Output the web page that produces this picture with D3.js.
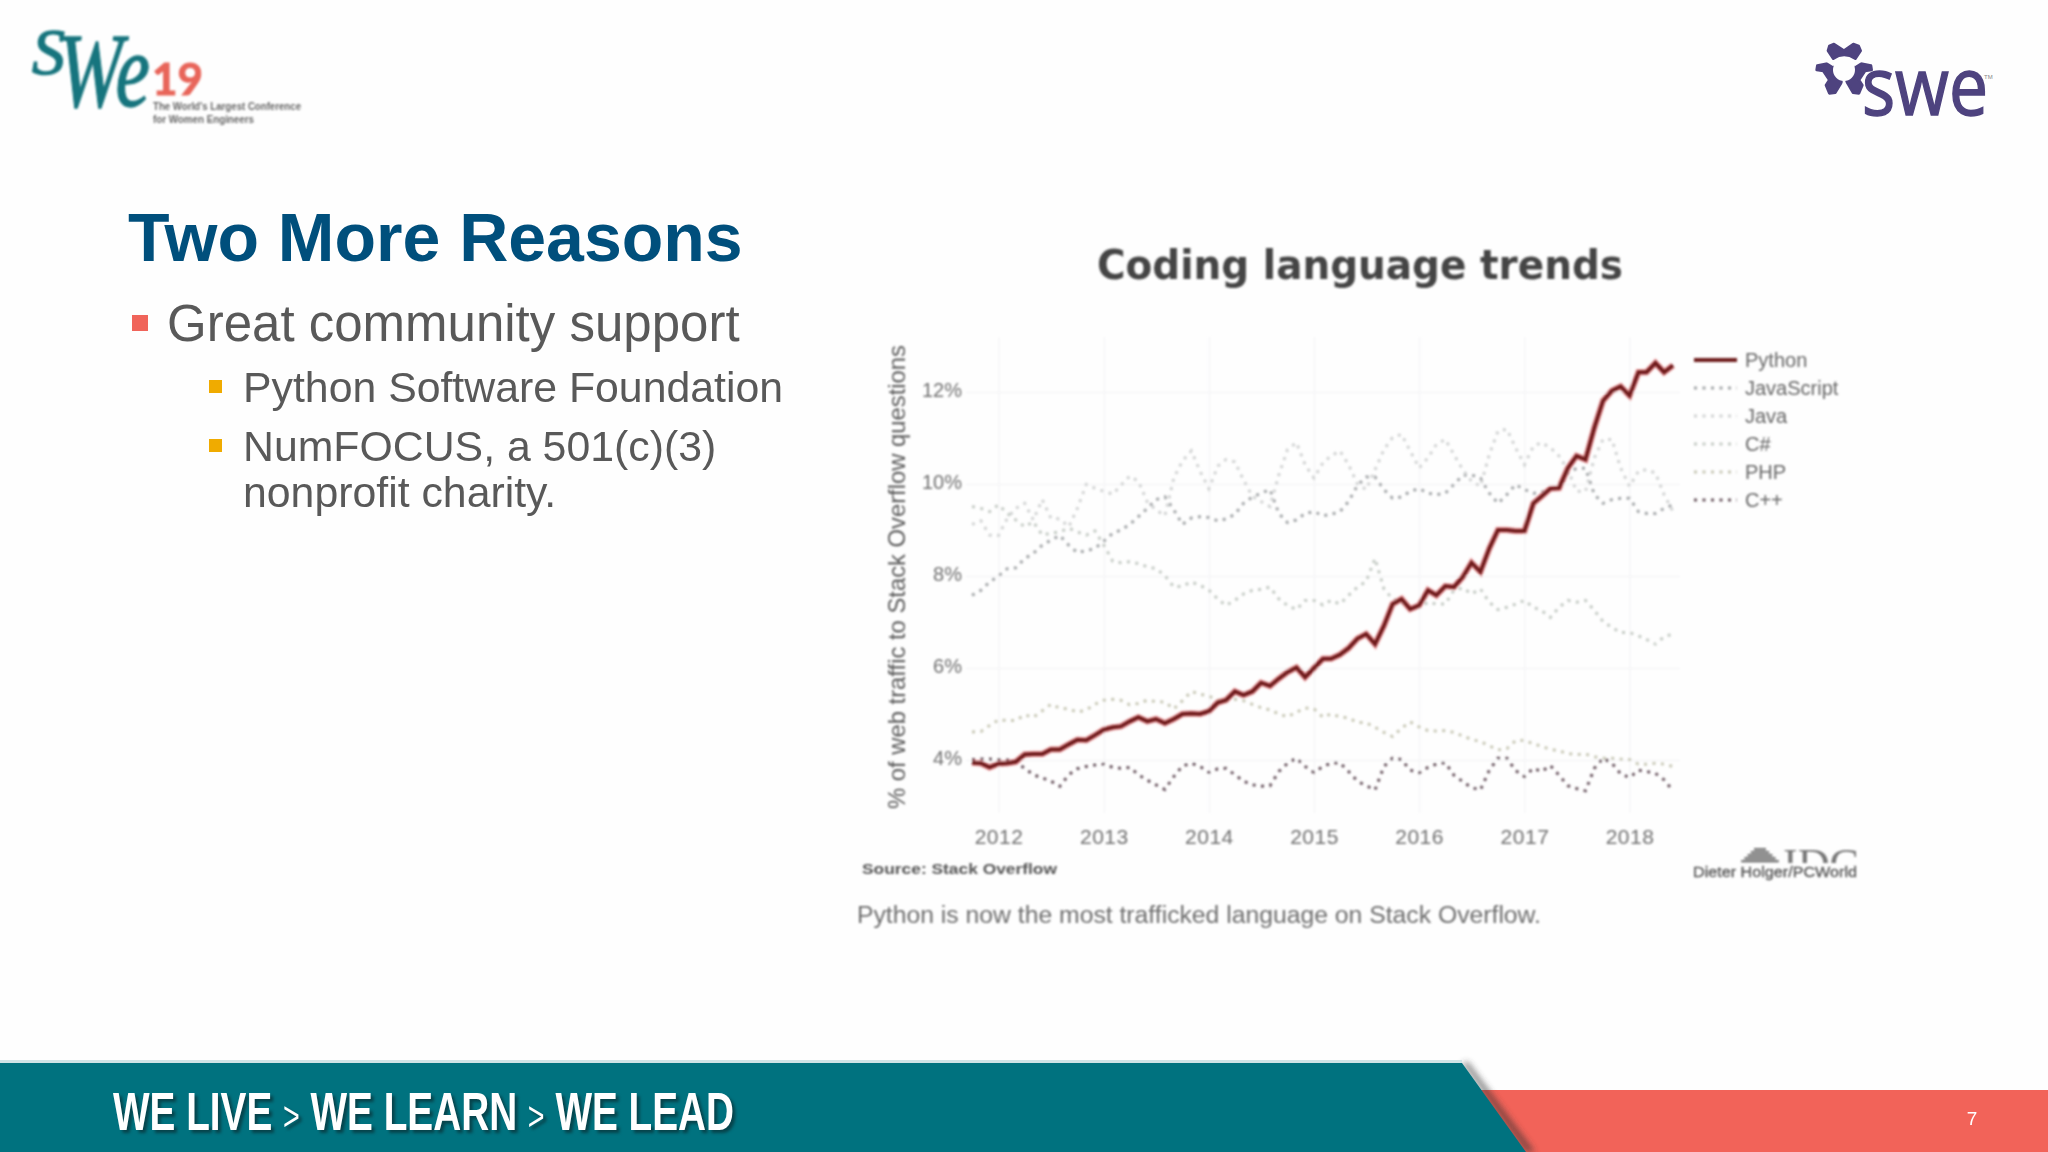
<!DOCTYPE html>
<html>
<head>
<meta charset="utf-8">
<script src="https://cdn.jsdelivr.net/npm/d3@7"></script>
<style>
  body { margin: 0; background: #fff; }
  svg { display: block; }
  text { font-family: "Liberation Sans", Arial, sans-serif; }
</style>
</head>
<body>
<script>
//monthly values, Oct 2011 to Jun 2018
const months = d3.timeMonth.range(new Date(2011, 9, 1), new Date(2018, 6, 1))
const python = [3.94,3.93,3.84,3.92,3.93,3.96,4.12,4.13,4.13,4.23,4.23,4.34,4.44,4.43,4.54,4.66,4.71,4.73,4.84,4.93,4.84,4.89,4.80,4.89,5.00,5.01,5.00,5.06,5.25,5.30,5.49,5.41,5.49,5.68,5.61,5.77,5.91,6.01,5.80,6.00,6.20,6.20,6.29,6.43,6.64,6.74,6.52,6.92,7.39,7.50,7.28,7.36,7.69,7.58,7.78,7.76,7.98,8.29,8.09,8.60,9.00,9.00,8.98,8.98,9.58,9.73,9.90,9.91,10.35,10.61,10.53,11.23,11.81,12.03,12.12,11.92,12.43,12.43,12.63,12.43,12.58]
const javascript = [7.58,7.69,7.87,8.00,8.16,8.18,8.38,8.49,8.67,8.78,8.88,8.67,8.51,8.55,8.60,8.76,8.93,9.00,9.12,9.29,9.47,9.66,9.72,9.44,9.12,9.26,9.29,9.27,9.20,9.24,9.34,9.58,9.72,9.80,9.88,9.36,9.16,9.22,9.36,9.40,9.31,9.34,9.40,9.62,9.97,10.15,10.15,9.88,9.69,9.72,9.84,9.90,9.80,9.77,9.80,9.99,10.19,10.20,10.13,9.80,9.58,9.77,9.99,9.88,9.80,9.82,9.90,9.91,10.24,10.34,10.34,9.77,9.58,9.66,9.69,9.69,9.40,9.36,9.36,9.47,9.55]
const java = [9.12,9.20,8.89,8.88,9.26,9.47,9.58,9.22,9.66,9.26,9.24,9.07,9.47,9.99,9.91,9.84,9.78,9.97,10.17,10.06,9.61,9.44,9.31,10.13,10.50,10.72,10.28,9.90,10.39,10.53,10.48,10.09,9.73,9.62,9.51,10.20,10.75,10.90,10.42,10.13,10.46,10.61,10.72,10.42,10.00,9.88,10.31,10.75,11.01,11.08,10.72,10.35,10.57,10.86,10.97,10.64,10.31,10.06,9.95,10.64,11.15,11.19,10.79,10.42,10.82,10.90,10.79,10.61,10.31,9.84,9.84,10.57,10.97,10.97,10.35,9.95,10.28,10.31,10.24,9.77,9.40]
const csharp = [9.51,9.47,9.40,9.55,9.36,9.22,9.07,9.18,8.89,8.93,8.96,9.04,8.96,8.89,8.98,8.67,8.32,8.29,8.31,8.27,8.20,8.16,8.01,7.76,7.78,7.87,7.80,7.69,7.50,7.36,7.47,7.61,7.69,7.71,7.76,7.50,7.36,7.27,7.47,7.47,7.37,7.47,7.39,7.58,7.76,7.88,8.38,7.72,7.50,7.43,7.30,7.32,7.43,7.39,7.39,7.69,7.74,7.61,7.72,7.43,7.27,7.32,7.39,7.47,7.32,7.25,7.10,7.32,7.47,7.43,7.47,7.25,7.01,6.88,6.77,6.77,6.70,6.62,6.52,6.68,6.74]
const php = [4.61,4.62,4.75,4.87,4.86,4.86,4.98,4.93,5.07,5.21,5.13,5.11,5.04,5.09,5.21,5.30,5.32,5.30,5.20,5.23,5.30,5.27,5.26,5.11,5.29,5.49,5.43,5.39,5.30,5.29,5.32,5.29,5.21,5.14,5.09,5.00,4.94,5.04,5.13,5.11,4.93,5.00,4.94,4.91,4.82,4.81,4.71,4.60,4.51,4.69,4.83,4.72,4.64,4.63,4.64,4.60,4.52,4.45,4.40,4.31,4.22,4.25,4.42,4.43,4.35,4.30,4.23,4.20,4.14,4.12,4.13,4.07,4.04,4.04,4.02,4.01,3.91,3.91,3.93,3.91,3.86]
const cpp = [4.01,4.02,4.02,4.01,4.00,3.96,3.82,3.68,3.61,3.54,3.43,3.68,3.81,3.86,3.89,3.91,3.84,3.82,3.84,3.68,3.56,3.46,3.36,3.64,3.87,3.93,3.86,3.73,3.81,3.82,3.68,3.54,3.46,3.43,3.44,3.75,3.93,4.04,3.86,3.73,3.86,3.93,3.94,3.75,3.54,3.44,3.35,3.86,4.04,4.01,3.78,3.72,3.84,3.91,3.94,3.67,3.53,3.40,3.35,3.78,4.04,4.04,3.77,3.64,3.82,3.75,3.88,3.67,3.44,3.38,3.33,3.82,4.04,3.93,3.70,3.62,3.78,3.75,3.71,3.57,3.33]

const seriesNames = ['Python', 'JavaScript', 'Java', 'C#', 'PHP', 'C++']
const seriesValues = [python, javascript, java, csharp, php, cpp]
const seriesColors = ['#6e1a1e', '#a3a6a8', '#d0d2d2', '#c4cac4', '#c8c8b6', '#6a5660']
const yearTicks = [2012, 2013, 2014, 2015, 2016, 2017, 2018]
const percentTicks = [4, 6, 8, 10, 12]

const width = 2048
const height = 1152

const svg = d3.select('body')
  .append('svg')
  .attr('width', width)
  .attr('height', height)

const defs = svg.append('defs')
defs.append('filter').attr('id', 'soft')
  .append('feGaussianBlur').attr('stdDeviation', 0.8)
defs.append('filter').attr('id', 'softer')
  .attr('x', '-20%').attr('y', '-20%').attr('width', '140%').attr('height', '140%')
  .append('feGaussianBlur').attr('stdDeviation', 3)
defs.append('clipPath').attr('id', 'idcClip')
  .append('rect').attr('x', 1780).attr('y', 840).attr('width', 82).attr('height', 23)

svg.append('rect').attr('width', width).attr('height', height).attr('fill', '#fefefe')

//chart part
const chart = svg.append('g').attr('filter', 'url(#soft)')

const xScale = d3.scaleTime()
  .domain([months[0], months[months.length - 1]])
  .range([972, 1673])

const yScale = d3.scaleLinear()
  .domain([4, 12])
  .range([760, 392])

const xAxis = d3.axisBottom(xScale)
  .tickValues(yearTicks.map((y) => new Date(y, 0, 1)))
  .tickFormat(d3.timeFormat('%Y'))
  .tickSize(-476)
  .tickPadding(16)

const yAxis = d3.axisLeft(yScale)
  .tickValues(percentTicks)
  .tickFormat((d) => d + '%')
  .tickSize(-714)
  .tickPadding(4)

const xG = chart.append('g')
  .attr('transform', 'translate(0,813)')
  .call(xAxis)
const yG = chart.append('g')
  .attr('transform', 'translate(966,0)')
  .call(yAxis)

svg.selectAll('.domain').remove()
chart.selectAll('.tick line').attr('stroke', '#f3f3f5')
xG.selectAll('text').attr('font-size', 21).attr('fill', '#707070').style('letter-spacing', '0.5px')
yG.selectAll('text').attr('font-size', 20).attr('fill', '#707070').attr('dy', '0.2em')

const line = d3.line()
  .x((d, i) => xScale(months[i]))
  .y((d) => yScale(d))

//dotted series first so python ends up on top
seriesNames.forEach((name, s) => {
  if (s === 0) return
  chart.append('path')
    .datum(seriesValues[s])
    .attr('d', line)
    .attr('fill', 'none')
    .attr('stroke', seriesColors[s])
    .attr('stroke-width', 3)
    .attr('stroke-dasharray', '3 5.5')
})

chart.append('path')
  .datum(python)
  .attr('d', line)
  .attr('fill', 'none')
  .attr('stroke', '#e0565a')
  .attr('stroke-width', 6.5)
  .attr('stroke-opacity', 0.55)
chart.append('path')
  .datum(python)
  .attr('d', line)
  .attr('fill', 'none')
  .attr('stroke', seriesColors[0])
  .attr('stroke-width', 4)

//legend
const legendY = d3.scalePoint().domain(seriesNames).range([360, 500])
const legend = chart.selectAll('.legendRow')
  .data(seriesNames)
  .enter()
  .append('g')
  .attr('class', 'legendRow')
  .attr('transform', (d) => 'translate(0,' + legendY(d) + ')')
legend.append('line')
  .attr('x1', 1694)
  .attr('x2', 1737)
  .attr('stroke', (d, i) => seriesColors[i])
  .attr('stroke-width', (d, i) => i === 0 ? 4 : 3)
  .attr('stroke-dasharray', (d, i) => i === 0 ? null : '3 5.5')
legend.append('text')
  .attr('x', 1745)
  .attr('y', 7)
  .attr('font-size', 20)
  .attr('fill', '#666')
  .text((d) => d)

chart.append('text')
  .attr('x', 1360)
  .attr('y', 279)
  .attr('text-anchor', 'middle')
  .attr('font-size', 40)
  .attr('font-weight', 'bold')
  .attr('fill', '#454545')
  .style('font-family', '"DejaVu Sans"')
  .attr('textLength', 526)
  .attr('lengthAdjust', 'spacingAndGlyphs')
  .text('Coding language trends')

chart.append('text')
  .attr('x', -577)
  .attr('y', 905)
  .attr('transform', 'rotate(-90)')
  .attr('text-anchor', 'middle')
  .attr('font-size', 23.8)
  .attr('fill', '#5a5a5a')
  .text('% of web traffic to Stack Overflow questions')

chart.append('text')
  .attr('x', 862)
  .attr('y', 874)
  .attr('font-size', 15.5)
  .attr('font-weight', 'bold')
  .attr('fill', '#555')
  .attr('textLength', 195)
  .attr('lengthAdjust', 'spacingAndGlyphs')
  .text('Source: Stack Overflow')

chart.append('text')
  .attr('x', 857)
  .attr('y', 923)
  .attr('font-size', 23)
  .attr('fill', '#6e6e6e')
  .attr('textLength', 684)
  .attr('lengthAdjust', 'spacingAndGlyphs')
  .text('Python is now the most trafficked language on Stack Overflow.')

//idc mark with the credit over it
const dome = chart.append('g').attr('fill', '#777')
d3.range(5).forEach((i) => {
  dome.append('rect')
    .attr('x', 1760 - 6 - i * 3.2)
    .attr('y', 848 + i * 3)
    .attr('width', 12 + i * 6.4)
    .attr('height', 2.4)
})
chart.append('text')
  .attr('x', 1783)
  .attr('y', 878)
  .attr('font-size', 42)
  .attr('fill', '#777')
  .attr('clip-path', 'url(#idcClip)')
  .style('font-family', '"Liberation Serif"')
  .attr('textLength', 76)
  .attr('lengthAdjust', 'spacingAndGlyphs')
  .text('IDC')
chart.append('text')
  .attr('x', 1693)
  .attr('y', 877)
  .attr('font-size', 15.5)
  .attr('fill', '#555')
  .attr('stroke', '#555')
  .attr('stroke-width', 0.3)
  .attr('textLength', 164)
  .attr('lengthAdjust', 'spacingAndGlyphs')
  .text('Dieter Holger/PCWorld')

//slide text
svg.append('text')
  .attr('x', 128)
  .attr('y', 261)
  .attr('font-size', 68)
  .attr('font-weight', 'bold')
  .attr('fill', '#004f7c')
  .text('Two More Reasons')

svg.append('rect').attr('x', 132).attr('y', 315).attr('width', 16).attr('height', 16).attr('fill', '#f0645a')
svg.append('text').attr('x', 167).attr('y', 341).attr('font-size', 51).attr('fill', '#595959').text('Great community support')

const subBullets = [[380, 'Python Software Foundation', 402], [439, 'NumFOCUS, a 501(c)(3)', 461]]
subBullets.forEach((b) => {
  svg.append('rect').attr('x', 209).attr('y', b[0]).attr('width', 13).attr('height', 13).attr('fill', '#f0ab00')
  svg.append('text').attr('x', 243).attr('y', b[2]).attr('font-size', 42.8).attr('fill', '#595959').text(b[1])
})
svg.append('text').attr('x', 243).attr('y', 507).attr('font-size', 42.8).attr('fill', '#595959').text('nonprofit charity.')

//footer
svg.append('rect').attr('x', 1400).attr('y', 1090).attr('width', 648).attr('height', 62).attr('fill', '#f26359')
svg.append('path')
  .attr('d', 'M1468,1062 L1535,1152 L1526,1152 L1462,1063 Z')
  .attr('fill', '#333')
  .attr('opacity', 0.6)
  .attr('filter', 'url(#softer)')
svg.append('path')
  .attr('d', 'M0,1063 L1462,1063 L1526,1152 L0,1152 Z')
  .attr('fill', '#00727f')
svg.append('rect').attr('x', 0).attr('y', 1060).attr('width', 1462).attr('height', 3).attr('fill', '#cfe3e6')

const motto = svg.append('text')
  .attr('x', 113)
  .attr('y', 1130)
  .attr('font-size', 54)
  .attr('font-weight', 'bold')
  .attr('fill', '#ffffff')
  .attr('textLength', 621)
  .attr('lengthAdjust', 'spacingAndGlyphs')
  .style('filter', 'drop-shadow(3px 3px 1.5px #06434b)')
motto.append('tspan').text('WE LIVE ')
motto.append('tspan').attr('font-weight', 'normal').attr('font-size', 40).text('>')
motto.append('tspan').text(' WE LEARN ')
motto.append('tspan').attr('font-weight', 'normal').attr('font-size', 40).text('>')
motto.append('tspan').text(' WE LEAD')

svg.append('text')
  .attr('x', 1972)
  .attr('y', 1125)
  .attr('text-anchor', 'middle')
  .attr('font-size', 19)
  .attr('fill', '#fff')
  .text('7')

//swe19 logo, top left
const logo = svg.append('g').attr('filter', 'url(#soft)')
logo.append('text')
  .attr('x', 32).attr('y', 74)
  .attr('font-size', 66).attr('font-style', 'italic')
  .attr('fill', '#14757e')
  .attr('stroke', '#14757e')
  .attr('stroke-width', 1.5)
  .style('font-family', '"Liberation Serif"')
  .text('S')
logo.append('text')
  .attr('x', 58).attr('y', 106)
  .attr('font-size', 106).attr('font-style', 'italic')
  .attr('fill', '#14757e')
  .attr('stroke', '#14757e')
  .attr('stroke-width', 1.5)
  .style('font-family', '"Liberation Serif"')
  .attr('textLength', 92)
  .attr('lengthAdjust', 'spacingAndGlyphs')
  .text('We')
logo.append('text')
  .attr('x', 152).attr('y', 95)
  .attr('font-size', 44).attr('font-weight', 'bold')
  .attr('fill', '#e8655a')
  .attr('stroke', '#e8655a')
  .attr('stroke-width', 1)
  .style('font-family', 'Lato')
  .text('19')
logo.append('text')
  .attr('x', 153).attr('y', 110)
  .attr('font-size', 11).attr('font-weight', 'bold')
  .attr('fill', '#666')
  .attr('textLength', 148)
  .attr('lengthAdjust', 'spacingAndGlyphs')
  .text("The World's Largest Conference")
logo.append('text')
  .attr('x', 153).attr('y', 123)
  .attr('font-size', 11).attr('font-weight', 'bold')
  .attr('fill', '#666')
  .attr('textLength', 101)
  .attr('lengthAdjust', 'spacingAndGlyphs')
  .text('for Women Engineers')

//swe logo, top right
const gear = svg.append('g')
  .attr('transform', 'translate(1780,20) scale(0.3333)')
  .attr('fill', '#4e437f')
  .attr('stroke', '#4e437f')
  .attr('stroke-width', 8)
  .attr('stroke-linejoin', 'round')
gear.append('path').attr('d', 'M148,78 L162,72 L192,92 L220,72 L236,78 L242,92 L226,116 Q192,94 160,116 L144,92 Z')
gear.append('path').attr('d', 'M112,137 L146,130 L156,133 Q162,165 188,182 L166,218 L148,220 L138,196 L148,180 L130,153 L110,150 Z')
gear.append('path').attr('d', 'M273,137 L239,130 L229,133 Q223,165 198,182 L219,218 L237,220 L247,196 L237,180 L255,153 L275,150 Z')
//hole in the middle and the gaps between the three pieces
gear.append('circle').attr('cx', 192).attr('cy', 150).attr('r', 33).attr('fill', '#fefefe').attr('stroke', 'none')
gear.append('path')
  .attr('d', 'M192,170 L192,200 M162,135 L138,120 M222,135 L246,120')
  .attr('stroke', '#fefefe')
  .attr('stroke-width', 8)

svg.append('text')
  .attr('x', 1862)
  .attr('y', 115)
  .attr('font-size', 80)
  .attr('fill', '#4e437f')
  .attr('stroke', '#4e437f')
  .attr('stroke-width', 1.5)
  .style('font-family', '"Open Sans"')
  .attr('textLength', 126)
  .attr('lengthAdjust', 'spacingAndGlyphs')
  .text('swe')
svg.append('text')
  .attr('x', 1984)
  .attr('y', 79)
  .attr('font-size', 6)
  .attr('fill', '#888')
  .text('TM')
</script>
</body>
</html>
